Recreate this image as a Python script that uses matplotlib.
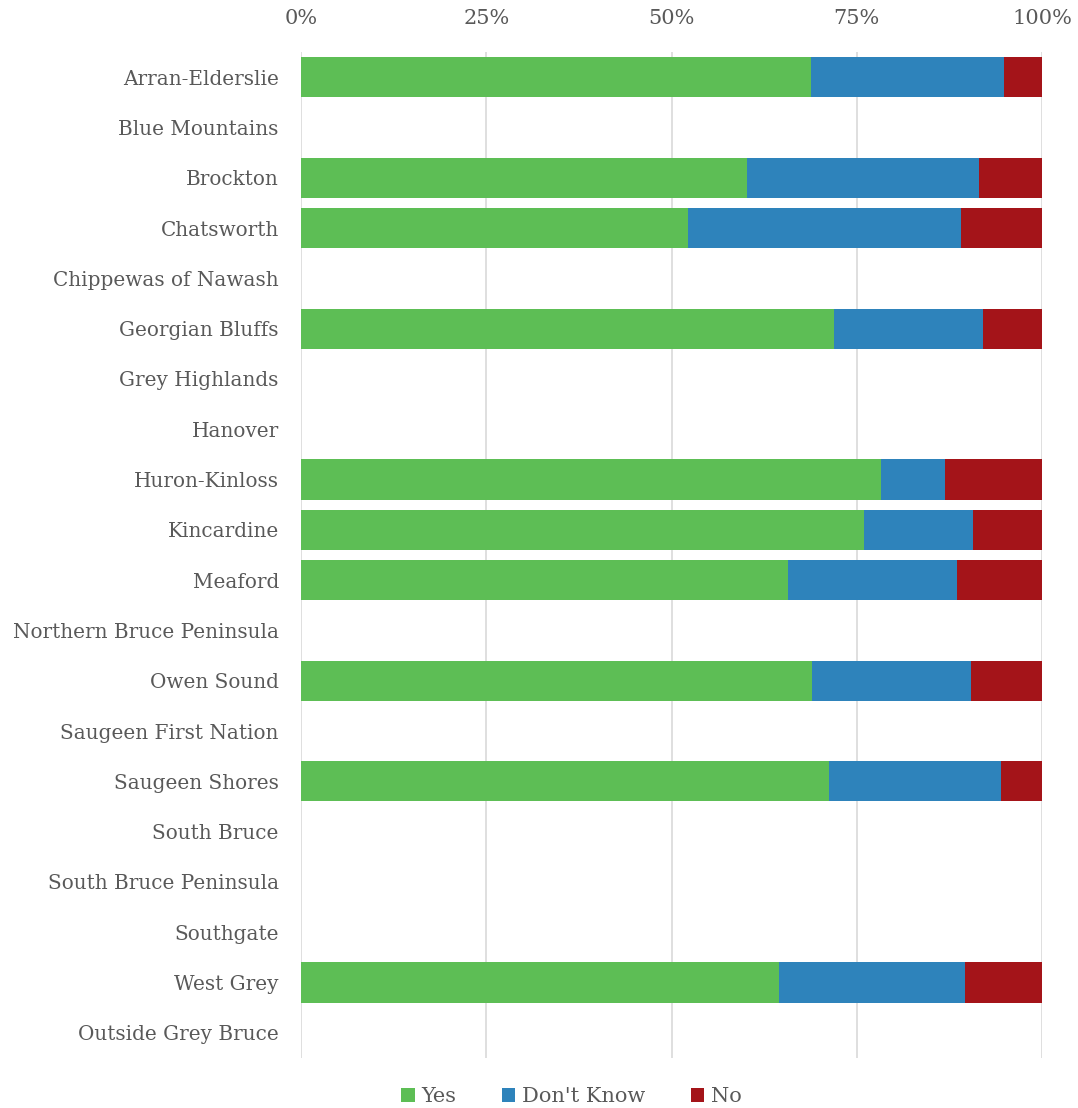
import numpy as np
import matplotlib.pyplot as plt
from matplotlib.ticker import PercentFormatter

places = ["Arran-Elderslie", "Blue Mountains", "Brockton", "Chatsworth",
          "Chippewas of Nawash", "Georgian Bluffs", "Grey Highlands", "Hanover",
          "Huron-Kinloss", "Kincardine", "Meaford", "Northern Bruce Peninsula",
          "Owen Sound", "Saugeen First Nation", "Saugeen Shores", "South Bruce",
          "South Bruce Peninsula", "Southgate", "West Grey", "Outside Grey Bruce"]

# percentages, empty rows = no responses
yes = [68.8, 0, 60.2, 52.2, 0, 71.9, 0, 0, 78.3, 76.0, 65.7, 0, 69.0, 0, 71.3, 0, 0, 0, 64.5, 0]
dont_know = [26.1, 0, 31.3, 36.9, 0, 20.1, 0, 0, 8.6, 14.7, 22.8, 0, 21.4, 0, 23.2, 0, 0, 0, 25.1, 0]
no = [5.1, 0, 8.5, 10.9, 0, 8.0, 0, 0, 13.1, 9.3, 11.5, 0, 9.6, 0, 5.5, 0, 0, 0, 10.4, 0]

plt.rcParams['font.family'] = ['DejaVu Serif']
txt = '#595959'

fig = plt.figure(figsize=(10.78, 11.08), dpi=100)
ax = fig.add_axes([301/1078, 1 - 1058/1108, 741/1078, 1006/1108])

y = np.arange(len(places))
yes = np.array(yes); dont_know = np.array(dont_know); no = np.array(no)
ax.barh(y, yes, height=0.8, color='#5dbe55', label='Yes', zorder=3)
ax.barh(y, dont_know, left=yes, height=0.8, color='#2e83bb', label="Don't Know", zorder=3)
ax.barh(y, no, left=yes + dont_know, height=0.8, color='#a41419', label='No', zorder=3)

ax.set_xlim(0, 100)
ax.set_ylim(len(places) - 0.5, -0.5)
ax.set_yticks(y)
ax.set_yticklabels(places, fontsize=14.4, color=txt)
ax.set_xticks([0, 25, 50, 75, 100])
ax.xaxis.set_major_formatter(PercentFormatter(decimals=0))
ax.xaxis.tick_top()
ax.tick_params(axis='x', labelsize=15, labelcolor=txt, length=0, pad=17)
ax.tick_params(axis='y', length=0, pad=16)
ax.grid(axis='x', color='#d9d9d9', linewidth=1.2, zorder=0)
for s in ax.spines.values():
    s.set_visible(False)

fig.legend(loc='lower center', bbox_to_anchor=(0.53, -0.008), borderaxespad=0.1, ncol=3,
           frameon=False, fontsize=15, labelcolor=txt, handlelength=0.65, handleheight=0.65,
           handletextpad=0.3, columnspacing=2.2)

fig.savefig('out.png', dpi=100)
